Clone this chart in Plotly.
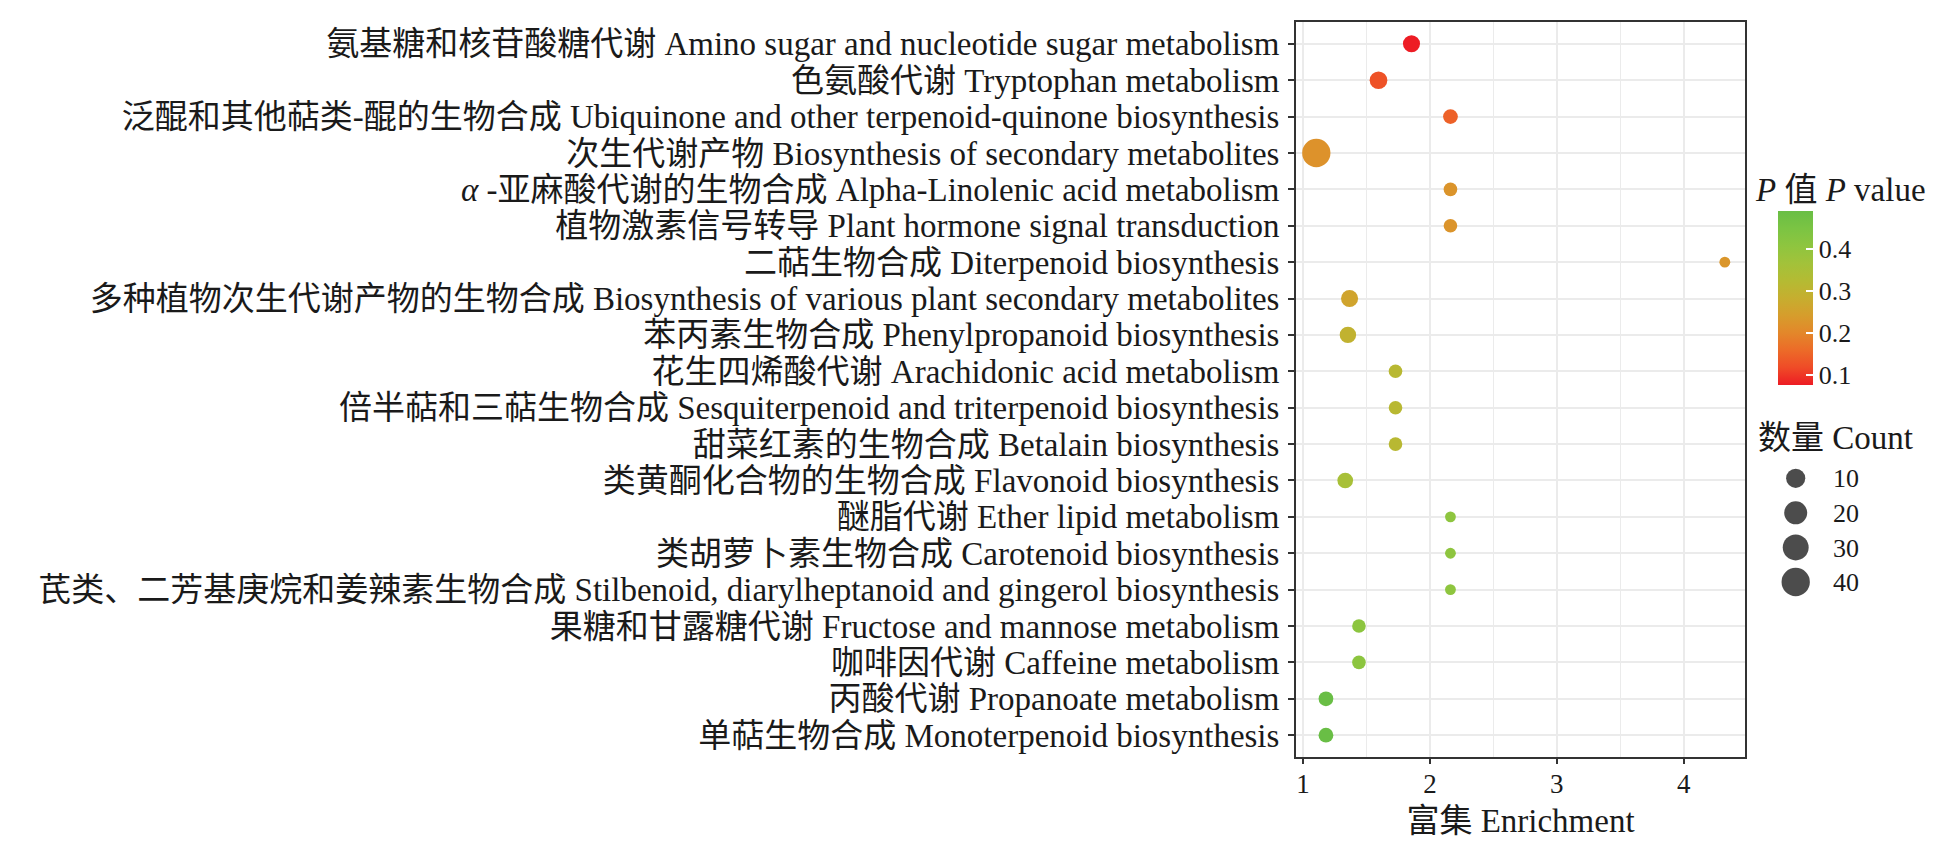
import numpy as np
import plotly.graph_objects as go

# KEGG pathway enrichment bubble chart
pathways = [
    "氨基糖和核苷酸糖代谢 Amino sugar and nucleotide sugar metabolism",
    "色氨酸代谢 Tryptophan metabolism",
    "泛醌和其他萜类-醌的生物合成 Ubiquinone and other terpenoid-quinone biosynthesis",
    "次生代谢产物 Biosynthesis of secondary metabolites",
    "<i>α</i> -亚麻酸代谢的生物合成 Alpha-Linolenic acid metabolism",
    "植物激素信号转导 Plant hormone signal transduction",
    "二萜生物合成 Diterpenoid biosynthesis",
    "多种植物次生代谢产物的生物合成 Biosynthesis of various plant secondary metabolites",
    "苯丙素生物合成 Phenylpropanoid biosynthesis",
    "花生四烯酸代谢 Arachidonic acid metabolism",
    "倍半萜和三萜生物合成 Sesquiterpenoid and triterpenoid biosynthesis",
    "甜菜红素的生物合成 Betalain biosynthesis",
    "类黄酮化合物的生物合成 Flavonoid biosynthesis",
    "醚脂代谢 Ether lipid metabolism",
    "类胡萝卜素生物合成 Carotenoid biosynthesis",
    "芪类、二芳基庚烷和姜辣素生物合成 Stilbenoid, diarylheptanoid and gingerol biosynthesis",
    "果糖和甘露糖代谢 Fructose and mannose metabolism",
    "咖啡因代谢 Caffeine metabolism",
    "丙酸代谢 Propanoate metabolism",
    "单萜生物合成 Monoterpenoid biosynthesis",
]
enrichment = [1.855, 1.595, 2.162, 1.105, 2.162, 2.162, 4.324, 1.367, 1.354, 1.729,
              1.729, 1.729, 1.333, 2.162, 2.162, 2.162, 1.441, 1.441, 1.181, 1.181]
pvalue = [0.076, 0.126, 0.146, 0.220, 0.225, 0.225, 0.228, 0.258, 0.295, 0.316,
          0.316, 0.316, 0.353, 0.407, 0.407, 0.407, 0.412, 0.412, 0.490, 0.490]
count = [6, 7, 3, 40, 2, 2, 1, 6, 5, 2, 2, 2, 4, 1, 1, 1, 2, 2, 3, 3]

size_breaks = [10, 20, 30, 40]
p_ticks = [0.1, 0.2, 0.3, 0.4]

colorscale = [
    [0.0, "#ED1C24"], [0.1, "#EF4B27"], [0.2, "#EC6B28"], [0.3, "#E3872A"],
    [0.4, "#D69D2C"], [0.5, "#C6AE2F"], [0.6, "#B4BB33"], [0.7, "#A2C23A"],
    [0.8, "#8EC53F"], [0.9, "#7BC443"], [1.0, "#69BE45"],
]

FONT = "Liberation Serif, Noto Sans CJK SC"
TXT = "#1a1a1a"
cmin_n, cmax_n = min(count), max(count)


def bubble(c):
    # area-style size scale, like ggplot scale_size
    c = np.asarray(c, dtype=float)
    return 10.8 + 17.5 * np.sqrt((c - cmin_n) / (cmax_n - cmin_n))


# page geometry: the browser body keeps an 8px margin, so the figure is
# drawn 8px smaller and every target pixel is shifted by OFF
OFF = 8
W, H = 1944 - OFF, 855 - OFF
ml, mr, mt, mb = 1296 - OFF, 10, 22 - OFF, 855 - 757
pw, ph = W - ml - mr, H - mt - mb


def px_x(x):
    return (x - OFF - ml) / pw


def px_y(y):
    return (H - mb - (y - OFF)) / ph


keys = [f"p{i}" for i in range(len(pathways))]

fig = go.Figure()
fig.add_trace(go.Scatter(
    x=enrichment, y=keys, mode="markers",
    marker=dict(size=bubble(count), color=pvalue, colorscale=colorscale,
                line=dict(width=0), opacity=1,
                colorbar=dict(x=px_x(1777.7), xanchor="left", xpad=0,
                              y=px_y(298), yanchor="middle", ypad=0,
                              thickness=35, lenmode="pixels", len=174,
                              outlinewidth=0, tickvals=p_ticks,
                              ticks="inside", ticklen=7, tickcolor="white",
                              tickwidth=1.5,
                              tickfont=dict(family=FONT, size=26, color=TXT))),
    showlegend=False, hoverinfo="x+text", text=pathways,
))

# size legend drawn on its own small axes
fig.add_trace(go.Scatter(
    x=[0] * len(size_breaks), y=[str(s) for s in size_breaks], mode="markers",
    marker=dict(size=bubble(size_breaks), color="black", line=dict(width=0)),
    xaxis="x2", yaxis="y2", showlegend=False, hoverinfo="skip",
))

fig.update_layout(
    width=W, height=H,
    margin=dict(l=ml, r=mr, t=mt, b=mb, autoexpand=False),
    paper_bgcolor="white", plot_bgcolor="white",
    font=dict(family=FONT, color=TXT),
    xaxis=dict(domain=[0, 449 / pw], range=[0.945, 4.483],
               tickvals=[1, 2, 3, 4], showgrid=True, gridcolor="#EBEBEB",
               gridwidth=2, minor=dict(dtick=0.5, tick0=0.5, showgrid=True,
                                       gridcolor="#EBEBEB", gridwidth=1),
               showline=True, linecolor="#333333", linewidth=2, mirror=True,
               ticks="outside", ticklen=5, tickwidth=2, tickcolor="#333333",
               ticklabelstandoff=-3,
               tickfont=dict(family=FONT, size=27, color=TXT),
               title=dict(text="富集 Enrichment", standoff=10,
                          font=dict(family=FONT, size=33, color=TXT)),
               zeroline=False),
    yaxis=dict(categoryorder="array", categoryarray=keys,
               tickmode="array", tickvals=keys, ticktext=pathways,
               range=[len(keys) - 0.4, -0.6],
               showgrid=True, gridcolor="#EBEBEB", gridwidth=2,
               showline=True, linecolor="#333333", linewidth=2, mirror=True,
               ticks="outside", ticklen=6, tickwidth=2, tickcolor="#333333",
               ticklabelstandoff=2,
               tickfont=dict(family=FONT, size=33, color=TXT), zeroline=False),
    xaxis2=dict(domain=[px_x(1771.4), px_x(1820)], range=[-1, 1],
                visible=False, anchor="y2"),
    yaxis2=dict(domain=[px_y(599.3), px_y(461)], anchor="x2", side="right",
                type="category", range=[3.5, -0.5], showgrid=False,
                showline=False, zeroline=False, ticks="",
                ticklabelstandoff=12,
                tickfont=dict(family=FONT, size=26, color=TXT)),
    annotations=[
        dict(text="<i>P</i> 值 <i>P</i> value", x=px_x(1753), y=px_y(190),
             xref="paper", yref="paper", xanchor="left", yanchor="middle",
             showarrow=False, font=dict(family=FONT, size=33, color=TXT)),
        dict(text="数量 Count", x=px_x(1756), y=px_y(438),
             xref="paper", yref="paper", xanchor="left", yanchor="middle",
             showarrow=False, font=dict(family=FONT, size=33, color=TXT)),
    ],
)

fig.write_html("out.html")
